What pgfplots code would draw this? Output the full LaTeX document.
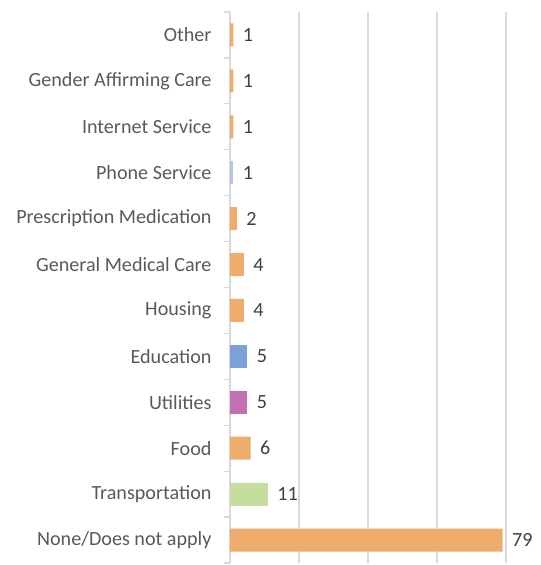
\documentclass[border=0pt]{standalone}
\usepackage{pgfplots}
\pgfplotsset{compat=1.18}
\usepackage{fontspec}
\setmainfont{Carlito}
\definecolor{barorange}{HTML}{EEAD6D}
\definecolor{bargreen}{HTML}{C5DE9F}
\definecolor{barmagenta}{HTML}{C36FB3}
\definecolor{barblue}{HTML}{7DA1D8}
\definecolor{barlightblue}{HTML}{B4C7E7}
\definecolor{gridgray}{HTML}{D9D9D9}
\definecolor{labelgray}{HTML}{595959}
\definecolor{valgray}{HTML}{404040}
\begin{document}
\begin{tikzpicture}
\begin{axis}[
  xbar, bar shift=0pt, bar width=0.5,
  scale only axis, width=276bp, height=551bp,
  xmin=0, xmax=80, ymin=-0.5, ymax=11.5,
  axis x line*=bottom, axis y line*=left,
  x axis line style={draw=none},
  xtick={0,20,...,80}, xticklabels={}, xtick style={draw=none},
  xmajorgrids, grid style={gridgray, line width=1.2bp},
  ytick={0,...,11},
  yticklabels={None/Does not apply, Transportation, Food, Utilities, Education, Housing, General Medical Care, Prescription Medication, Phone Service, Internet Service, Gender Affirming Care, Other},
  major y tick style={draw=none}, major tick length=0pt,
  minor ytick={-0.5,0.5,...,11.5}, minor tick length=6bp, tick align=outside,
  minor y tick style={gridgray, line width=1.2bp},
  y axis line style={gridgray, line width=1.2bp},
  yticklabel style={font=\fontsize{20.2}{24}\selectfont, text=labelgray, xshift=-15bp},
  /pgf/number format/assume math mode=true,
  nodes near coords,
  nodes near coords style={font=\fontsize{20.2}{24}\selectfont, text=valgray, anchor=west, xshift=6bp},
  every axis plot/.append style={draw=none},
]
\addplot[fill=barorange] coordinates {(79,0) (6,2) (4,5) (4,6) (2,7) (1,9) (1,10) (1,11)};
\addplot[fill=bargreen] coordinates {(11,1)};
\addplot[fill=barmagenta] coordinates {(5,3)};
\addplot[fill=barblue] coordinates {(5,4)};
\addplot[fill=barlightblue] coordinates {(1,8)};
\end{axis}
\pgfresetboundingbox
\path ([shift={(-230bp,-2bp)}]current axis.south west) rectangle ([shift={(35bp,12bp)}]current axis.north east);
\end{tikzpicture}
\end{document}
